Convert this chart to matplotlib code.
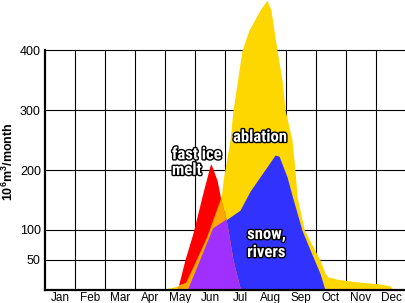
import numpy as np
import matplotlib
matplotlib.use("Agg")
import matplotlib.pyplot as plt
import matplotlib.patheffects as pe
from matplotlib import font_manager

plt.rcParams["mathtext.fontset"] = "custom"
plt.rcParams["mathtext.rm"] = "Liberation Sans:bold"
plt.rcParams["mathtext.it"] = "Liberation Sans:bold"
plt.rcParams["mathtext.bf"] = "Liberation Sans:bold"
plt.rcParams["mathtext.default"] = "rm"

# month axis: 0 = start of January, 12 = end of December
months = ["Jan", "Feb", "Mar", "Apr", "May", "Jun",
          "Jul", "Aug", "Sep", "Oct", "Nov", "Dec"]
y_ticks = [50, 100, 200, 300, 400]

# total ablation discharge (10^6 m^3 / month)
ablation_t = [0.93, 1.0, 4.0, 4.2, 4.42, 4.69, 5.0, 5.39, 5.85, 5.92, 6.02,
              6.15, 6.25, 6.55, 6.78, 7.15, 7.38, 7.51, 7.71, 7.88, 7.98,
              8.21, 8.31, 8.38, 8.62, 8.91, 9.14, 9.31, 9.41, 9.71, 10.14,
              10.70, 11.14, 11.47, 11.57]
ablation_v = [0, 2, 2, 4, 7, 12, 45, 88, 152, 183, 212,
              250, 300, 400, 433, 467, 483, 467, 400, 350, 300,
              250, 200, 155, 100, 72, 50, 28, 22, 18, 15,
              12, 10, 7, 0]

# snow and river runoff
snow_t = [4.75, 5.59, 6.05, 6.48, 6.82, 7.65, 7.78, 8.05, 8.21, 8.54,
          8.81, 9.14, 9.31]
snow_v = [0, 103, 118, 133, 165, 225, 223, 188, 158, 100,
          67, 28, 0]

# fast ice melt
ice_t = [4.40, 4.65, 4.92, 5.25, 5.49, 5.52, 5.72, 5.85, 6.02, 6.10, 6.25, 6.50]
ice_v = [0, 50, 95, 162, 208, 210, 183, 150, 118, 95, 50, 0]

c_yellow = "#FFD700"
c_red = "#FF0000"
c_orange = "#FFA800"
c_purple = "#A030FF"
c_blue = "#3232FF"

# condensed bold face for the in-plot labels, if one is installed
available = {(f.name, f.stretch) for f in font_manager.fontManager.ttflist}
names = {n for n, _ in available}
label_font = dict(family="Liberation Sans", fontsize=10.5)
for cand in ["Liberation Sans Narrow", "Roboto Condensed", "Open Sans Condensed",
             "Noto Sans Condensed", "DejaVu Sans Condensed"]:
    if cand in names:
        label_font = dict(family=cand, fontsize=12)
        break
else:
    for n, st in available:
        if n in ("DejaVu Sans", "Noto Sans", "Open Sans", "Roboto") and \
                str(st) in ("condensed", "semi-condensed", "75", "87.5"):
            label_font = dict(family=n, fontstretch="condensed", fontsize=12)
            break

fig = plt.figure(figsize=(4.06, 3.03), dpi=100)
ax = fig.add_axes([45 / 406, 13 / 303, 361 / 406, 290 / 303])
ax.set_xlim(0, 12)
ax.set_ylim(0, 290 / 0.6)

# grid (drawn underneath the areas)
ax.hlines(y_ticks, 0, 12, colors="black", lw=0.8, zorder=0.5)
ax.vlines(np.arange(1, 12), 0, 400, colors="black", lw=0.8, zorder=0.5)

abl = ax.fill_between(ablation_t, 0, ablation_v, color=c_yellow, lw=0, zorder=1)
snow = ax.fill_between(snow_t, 0, snow_v, color=c_blue, lw=0, zorder=1.1)
ax.fill_between(ice_t, 0, ice_v, color=c_red, lw=0, zorder=1.2)

# where ice melt overlaps ablation -> orange; overlaps snow -> purple
ice_on_abl = ax.fill_between(ice_t, 0, ice_v, color=c_orange, lw=0, zorder=1.3)
ice_on_abl.set_clip_path(abl.get_paths()[0], ax.transData)
ice_on_snow = ax.fill_between(ice_t, 0, ice_v, color=c_purple, lw=0, zorder=1.4)
ice_on_snow.set_clip_path(snow.get_paths()[0], ax.transData)

for s in ["top", "right"]:
    ax.spines[s].set_visible(False)
ax.spines["left"].set_bounds(0, 400)
ax.spines["left"].set_linewidth(1.6)
ax.spines["bottom"].set_linewidth(1.6)
ax.spines["left"].set_zorder(3)
ax.spines["bottom"].set_zorder(3)

ax.set_yticks(y_ticks)
ax.set_yticklabels([str(v) for v in y_ticks], family="Liberation Sans", fontsize=9)
ax.set_xticks(np.arange(12) + 0.5)
ax.set_xticklabels(months, family="Liberation Sans", fontsize=8.5)
ax.tick_params(axis="y", length=0, pad=3)
ax.tick_params(axis="x", length=0, pad=1.5)

outline = [pe.withStroke(linewidth=2, foreground="black")]
lab = dict(weight="bold", color="white", path_effects=outline, zorder=5,
           va="baseline", **label_font)
ax.text(4.22, 218, "fast ice", ha="left", **lab)
ax.text(4.22, 192, "melt", ha="left", **lab)
ax.text(7.15, 247, "ablation", ha="center", **lab)
ax.text(6.72, 85, "snow,", ha="left", **lab)
ax.text(6.72, 55, "rivers", ha="left", **lab)

fig.text(8.5 / 406, 1 - 161.5 / 303, "10$^{6}$m$^{3}$/month", rotation=90,
         ha="center", va="center", fontsize=9, weight="bold",
         family="Liberation Sans")

fig.savefig("out.png", dpi=100)
